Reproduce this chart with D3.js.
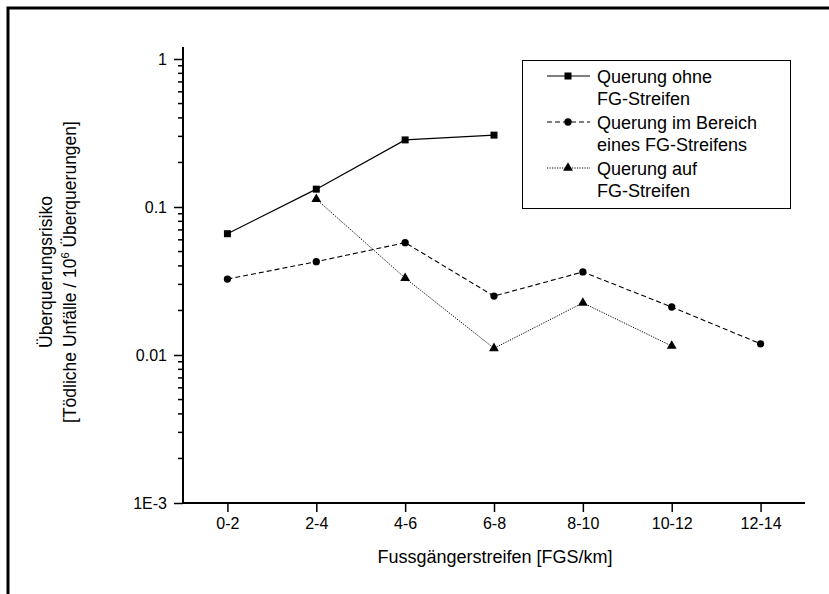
<!DOCTYPE html>
<html>
<head>
<meta charset="utf-8">
<script src="https://cdn.jsdelivr.net/npm/d3@7"></script>
<style>
  html, body { margin: 0; padding: 0; background: #fff; }
  svg { display: block; }
  text { font-family: "Liberation Sans", Arial, sans-serif; fill: #000; }
</style>
</head>
<body>
<svg id="chart" width="829" height="594"></svg>
<script>
// ---- data ----
const categories = ["0-2", "2-4", "4-6", "6-8", "8-10", "10-12", "12-14"];
const seriesOhne = [0.066, 0.132, 0.284, 0.306, null, null, null];
const seriesBereich = [0.0326, 0.0427, 0.0574, 0.025, 0.0364, 0.0211, 0.0119];
const seriesAuf = [null, 0.113, 0.0331, 0.0111, 0.0225, 0.0115, null];
const yTickValues = [1, 0.1, 0.01, 0.001];
const yTickLabels = ["1", "0.1", "0.01", "1E-3"];
const legendLabels = [
  ["Querung ohne", "FG-Streifen"],
  ["Querung im Bereich", "eines FG-Streifens"],
  ["Querung auf", "FG-Streifen"]
];
const xTitle = "Fussgängerstreifen [FGS/km]";
const yTitle1 = "Überquerungsrisiko";

(function () {
// ---- layout ----
const svg = d3.select("#chart");
const pLeft = 183, pRight = 805, pTop = 59, pBottom = 503;

const x = d3.scalePoint().domain(categories).range([pLeft, pRight]).padding(0.5);
const y = d3.scaleLog().domain([0.001, 1]).range([pBottom, pTop]);

// outer frame (top and left)
svg.append("path")
  .attr("d", d3.line()([[8, 594], [8, 8], [829, 8]]))
  .attr("fill", "none").attr("stroke", "#000").attr("stroke-width", 3);

// minor y ticks
const minor = [];
for (let e = -3; e < 0; e++) {
  for (let k = 2; k <= 9; k++) minor.push(k * Math.pow(10, e));
}
svg.append("g").selectAll("line").data(minor).join("line")
  .attr("x1", pLeft - 5).attr("x2", pLeft)
  .attr("y1", d => y(d)).attr("y2", d => y(d))
  .attr("stroke", "#000").attr("stroke-width", 1.5);

// y axis
const yAxis = d3.axisLeft(y).tickValues(yTickValues)
  .tickFormat((d, i) => yTickLabels[i]).tickSize(9).tickPadding(7);
const gy = svg.append("g").attr("transform", `translate(${pLeft},0)`).call(yAxis);
gy.select(".domain").remove();
gy.selectAll(".tick line").attr("stroke-width", 1.5);
gy.selectAll(".tick text").style("font-size", "16px")
  .style("font-family", "'Liberation Sans', Arial, sans-serif");

// x axis
const xAxis = d3.axisBottom(x).tickSize(9).tickPadding(6);
const gx = svg.append("g").attr("transform", `translate(0,${pBottom})`).call(xAxis);
gx.select(".domain").remove();
gx.selectAll(".tick line").attr("stroke-width", 1.5);
gx.selectAll(".tick text").style("font-size", "16px")
  .style("font-family", "'Liberation Sans', Arial, sans-serif");

// axis lines
svg.append("line").attr("x1", pLeft).attr("x2", pLeft).attr("y1", pTop - 12).attr("y2", pBottom + 1)
  .attr("stroke", "#000").attr("stroke-width", 2);
svg.append("line").attr("x1", pLeft - 1).attr("x2", pRight).attr("y1", pBottom).attr("y2", pBottom)
  .attr("stroke", "#000").attr("stroke-width", 2);

// series
const seriesDefs = [
  { values: seriesOhne, dash: null, width: 1.2, marker: d3.symbolSquare, size: 49 },
  { values: seriesBereich, dash: "5,3", width: 1.1, marker: d3.symbolCircle, size: 42 },
  { values: seriesAuf, dash: "1.2,1.3", width: 1, marker: d3.symbolTriangle, size: 42 }
];

const line = d3.line()
  .defined(d => d.v != null)
  .x(d => x(d.c)).y(d => y(d.v));

seriesDefs.forEach(s => {
  const pts = categories.map((c, i) => ({ c, v: s.values[i] }));
  svg.append("path").datum(pts)
    .attr("d", line).attr("fill", "none").attr("stroke", "#000")
    .attr("stroke-width", s.width)
    .attr("stroke-dasharray", s.dash);
  svg.append("g").selectAll("path").data(pts.filter(d => d.v != null)).join("path")
    .attr("d", d3.symbol().type(s.marker).size(s.size))
    .attr("transform", d => `translate(${x(d.c)},${y(d.v)})`)
    .attr("fill", "#000");
});

// legend
const lg = svg.append("g");
lg.append("rect").attr("x", 522.5).attr("y", 60.5).attr("width", 268).attr("height", 148)
  .attr("fill", "#fff").attr("stroke", "#000").attr("stroke-width", 1);
seriesDefs.forEach((s, i) => {
  const cy = 76 + i * 46;
  lg.append("line").attr("x1", 547).attr("x2", 590).attr("y1", cy).attr("y2", cy)
    .attr("stroke", "#000").attr("stroke-width", s.width).attr("stroke-dasharray", s.dash);
  lg.append("path").attr("d", d3.symbol().type(s.marker).size(s.size))
    .attr("transform", `translate(568,${cy})`).attr("fill", "#000");
  legendLabels[i].forEach((t, j) => {
    lg.append("text").attr("x", 597).attr("y", cy + 6.5 + j * 22)
      .style("font-size", "18px").text(t);
  });
});

// x title
svg.append("text").attr("x", (pLeft + pRight) / 2 + 1).attr("y", 563)
  .attr("text-anchor", "middle").style("font-size", "18px").text(xTitle);

// y title (two lines, rotated)
const yt = svg.append("g").attr("transform", "translate(52,272) rotate(-90)");
yt.append("text").attr("x", 0).attr("y", 0).attr("text-anchor", "middle")
  .style("font-size", "17.5px").text(yTitle1);
const t2 = yt.append("text").attr("x", 0).attr("y", 24).attr("text-anchor", "middle")
  .style("font-size", "17.5px");
t2.append("tspan").text("[Tödliche Unfälle / 10");
t2.append("tspan").attr("dy", -7).style("font-size", "11px").text("6");
t2.append("tspan").attr("dy", 7).text(" Überquerungen]");
})();
</script>
</body>
</html>
